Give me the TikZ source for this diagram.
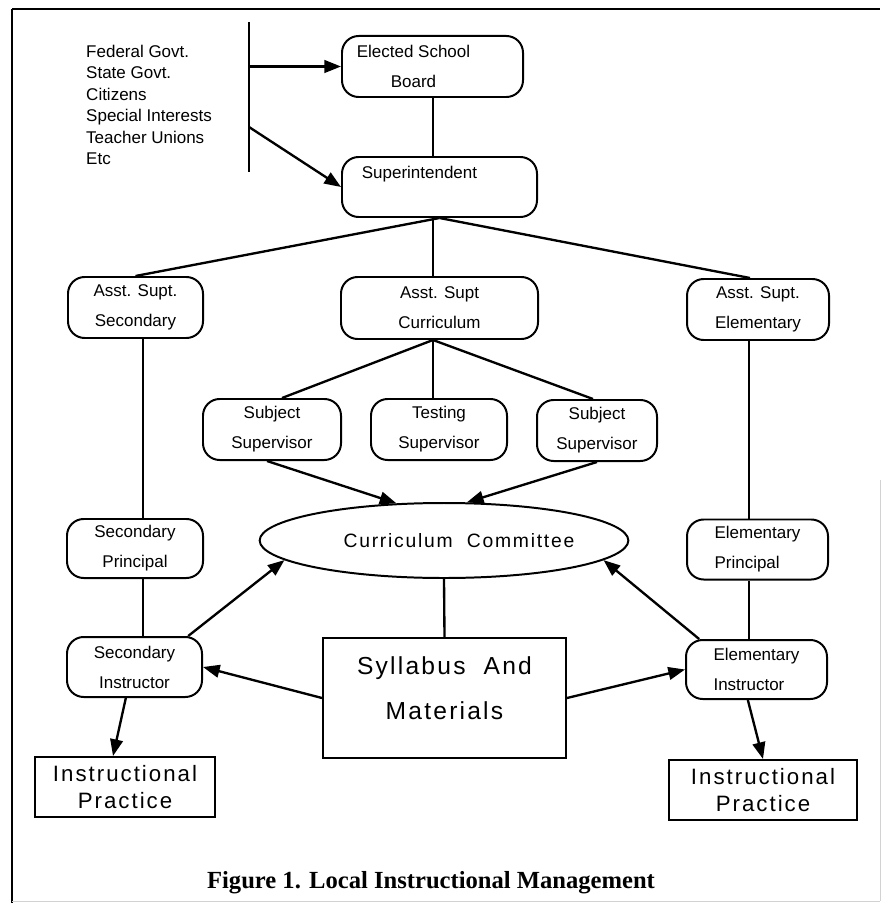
\documentclass[tikz,border=0pt]{standalone}
\usepackage{fontspec}
\setmainfont{Liberation Sans}
\newfontfamily\widefont{Liberation Sans}[LetterSpace=9]
\newfontfamily\capfont{Liberation Serif}
\usepackage{tikz}
\usetikzlibrary{arrows.meta}
\usetikzlibrary{shapes,positioning}
\tikzset{>={Triangle[length=0.5cm,width=0.38cm]},
  box/.style={draw, rounded corners=0.5cm, line width=1.7pt, inner sep=0pt,
    align=center, font=\fontsize{14.5}{25.5}\selectfont},
  plainbox/.style={draw, line width=1.7pt, inner sep=0pt, align=center},
  conn/.style={line width=2pt},
  rail/.style={line width=1.4pt}}
\newcommand{\lpad}[1]{\hspace*{#1}}

\begin{document}
\begin{tikzpicture}[x=0.03cm,y=-0.03cm]

  \useasboundingbox (0,0) rectangle (881,903);

  % frame
  \draw [line width=2pt] (12,9) -- (880,9);
  \draw [line width=2.4pt] (12,9) -- (12,903);
  \draw [gray!35, line width=0.8pt] (880,480) -- (880,901);
  \draw [gray!35, line width=0.8pt] (12,901) -- (880,901);

  % outside pressures
  \node [anchor=north west, align=left, inner sep=0pt,
    font=\fontsize{14.5}{18.3}\selectfont] (sources) at (86,45)
    {Federal Govt.\\State Govt.\\Citizens\\Special Interests\\Teacher Unions\\Etc};
  \coordinate (bartop) at (249,22);
  \coordinate (barbot) at (249,172);
  \coordinate (feed) at (249,127);

  \node [box, minimum width=5.43cm, minimum height=1.83cm] (elected) at (432.5,66.5)
    {Elected School\lpad{1.14cm}\\Board\lpad{1.14cm}};
  \node [box, minimum width=5.85cm, minimum height=1.8cm] (super) at (439.5,187)
    {Superintendent\lpad{1.2cm}\\\mbox{}};

  \node [box, minimum width=4.05cm, minimum height=1.83cm] (asec) at (135.5,307.5)
    {Asst. Supt.\\Secondary};
  \node [box, minimum width=5.91cm, minimum height=1.86cm] (acur) at (439.5,308)
    {Asst. Supt\\Curriculum};
  \node [box, minimum width=4.26cm, minimum height=1.83cm] (aelem) at (758,309.5)
    {Asst. Supt.\\Elementary};

  \node [box, minimum width=4.14cm, minimum height=1.83cm] (subl) at (272,429.5)
    {Subject\\Supervisor};
  \node [box, minimum width=4.08cm, minimum height=1.83cm] (test) at (439,429.5)
    {Testing\\Supervisor};
  \node [box, minimum width=3.6cm, minimum height=1.83cm] (subr) at (597,430.5)
    {Subject\\Supervisor};

  \node [draw, ellipse, line width=1.7pt, inner sep=0pt, minimum width=10.89cm,
    minimum height=2.25cm, font=\widefont\fontsize{16.5}{20}\selectfont] (committee)
    at (444,540.5) {\lpad{0.9cm}Curriculum\ \ Committee};

  \node [box, minimum width=4.08cm, minimum height=1.77cm] (secp) at (135,548.5)
    {Secondary\\Principal};
  \node [box, minimum width=4.05cm, minimum height=1.8cm] (seci) at (134.5,667)
    {Secondary\\Instructor};
  \node [box, align=left, minimum width=4.23cm, minimum height=1.8cm] (elemp) at (757.5,549.5)
    {Elementary\\Principal};
  \node [box, align=left, minimum width=4.23cm, minimum height=1.77cm] (elemi) at (756.5,669.5)
    {Elementary\\Instructor};

  \node [plainbox, minimum width=7.29cm, minimum height=3.6cm, text depth=0.6cm,
    font=\widefont\fontsize{21}{38}\selectfont] (syll) at (444.5,698)
    {Syllabus\ \ And\\Materials};

  \node [plainbox, minimum width=5.4cm, minimum height=1.8cm,
    font=\widefont\fontsize{19}{23}\selectfont] (pracl) at (125,787)
    {Instructional\\Practice};
  \node [plainbox, minimum width=5.64cm, minimum height=1.8cm,
    font=\widefont\fontsize{19}{23}\selectfont] (pracr) at (763,790)
    {Instructional\\Practice};

  \node [font=\capfont\bfseries\fontsize{21}{25}\selectfont] (caption) at (431,883)
    {Figure 1. Local Instructional Management};

  \coordinate (axis) at (433,0);
  \coordinate (lrail) at (143,0);
  \coordinate (rrail) at (749,0);

  % board and superintendent
  \draw [rail] (bartop) -- (barbot);
  \draw [conn,->] (elected.west -| bartop) -- (elected.west);
  \draw [conn,->] (feed) -- (super.west);
  \draw [rail] (elected.south -| axis) -- (super.north -| axis);

  \draw [conn] (super.south) -- (asec.north);
  \draw [rail] (super.south -| axis) -- (acur.north -| axis);
  \draw [conn] (super.south) -- ([xshift=-0.24cm]aelem.north);

  \draw [conn] (acur.south -| axis) -- ([xshift=0.3cm]subl.north);
  \draw [rail] (acur.south -| axis) -- (test.north -| axis);
  \draw [conn] (acur.south -| axis) -- ([xshift=-0.12cm]subr.north);

  \draw [rail] (asec.south -| lrail) -- (secp.north -| lrail);
  \draw [rail] (secp.south -| lrail) -- (seci.north -| lrail);
  \draw [rail] (aelem.south -| rrail) -- (elemp.north -| rrail);
  \draw [rail] (elemp.south -| rrail) -- (elemi.north -| rrail);

  % into the committee
  \draw [conn,->] ([xshift=-0.15cm]subl.south) -- (committee.142);
  \draw [conn,->] (subr.south) -- (committee.59);
  \draw [conn,->] (seci.30) -- (committee.187);
  \draw [conn,->] (elemi.152) -- (committee.353);

  \draw [conn] (committee.south) -- (syll.north);
  \draw [conn,->] (syll.west) -- (seci.east);
  \draw [conn,->] (syll.east) -- (elemi.west);

  \draw [conn,->] ([xshift=-0.26cm]seci.south) -- ([xshift=-0.36cm]pracl.north);
  \draw [conn,->] ([xshift=-0.26cm]elemi.south) -- (pracr.north);

\end{tikzpicture}
\end{document}
